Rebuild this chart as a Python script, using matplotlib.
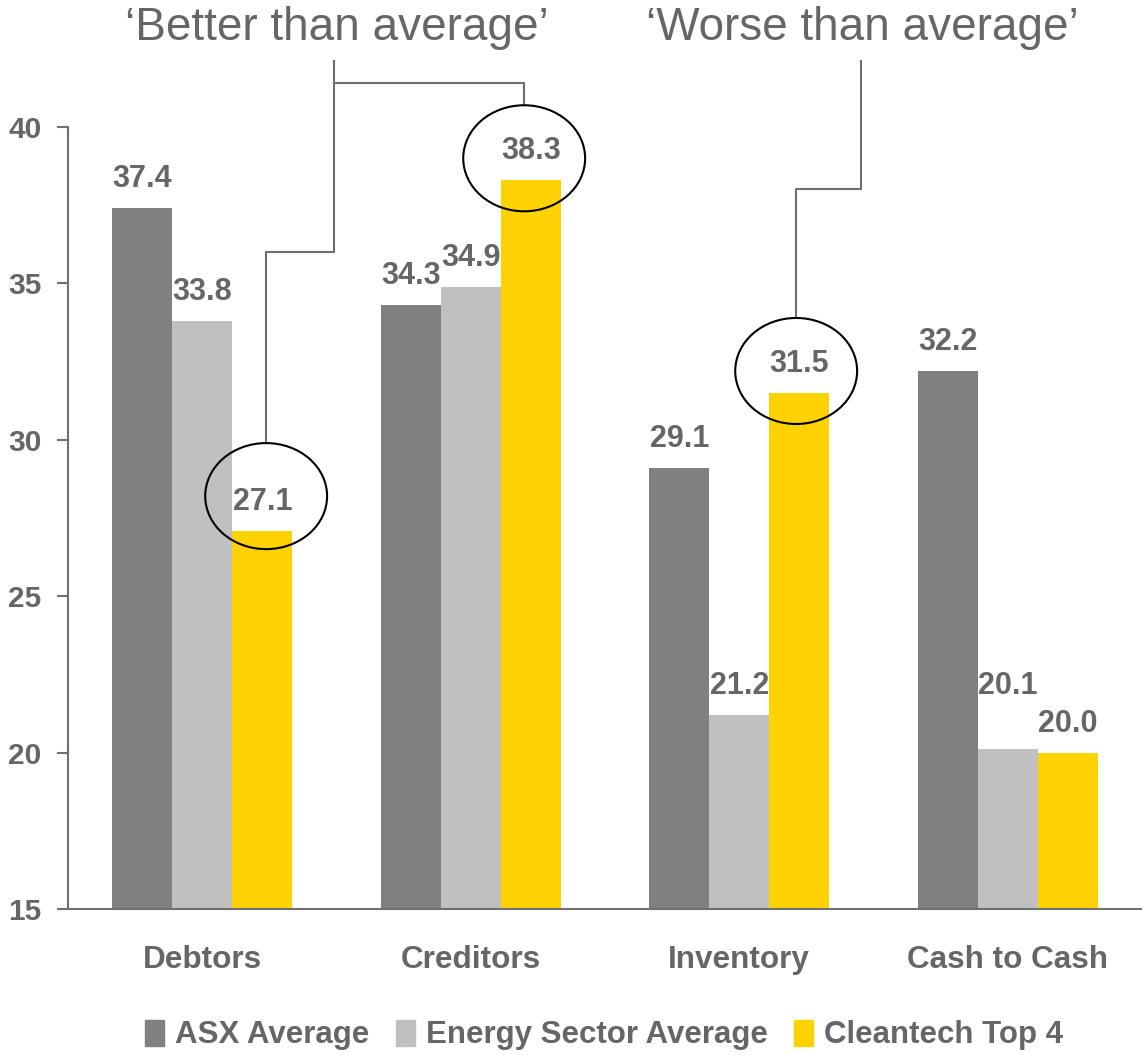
import matplotlib
matplotlib.use('Agg')
import matplotlib.pyplot as plt
from matplotlib.patches import Ellipse, Patch

##### data
categories = ['Debtors', 'Creditors', 'Inventory', 'Cash to Cash']
series_names = ['ASX Average', 'Energy Sector Average', 'Cleantech Top 4']
asx = [37.4, 34.3, 29.1, 32.2]
energy = [33.8, 34.9, 21.2, 20.1]
cleantech = [27.1, 38.3, 31.5, 20.0]
yticks = [15, 20, 25, 30, 35, 40]

colors = ['#808080', '#c0c0c0', '#ffd200']
txt = '#666666'

plt.rcParams['font.family'] = ['Liberation Sans', 'DejaVu Sans']

##### plotting
fig = plt.figure(figsize=(11.42, 10.55), dpi=100)
ax = fig.add_axes([68/1142, 146/1055, 1074/1142, 782/1055])

w = 0.2235
x = range(len(categories))
for k, vals in enumerate([asx, energy, cleantech]):
    xs = [i + (k - 1) * w for i in x]
    ax.bar(xs, vals, width=w, color=colors[k], zorder=2)
    for i, (xi, v) in enumerate(zip(xs, vals)):
        dy = 15
        if k == 1 and i == 3:   # lifted so it clears the 20.0 label
            dy = 40
        ax.annotate(f'{v:.1f}', (xi, v), xytext=(0, dy), textcoords='offset points',
                    ha='center', va='baseline', fontsize=22, fontweight='bold', color=txt)

ax.set_xlim(-0.5, 3.5)
ax.set_ylim(15, 40)
ax.set_yticks(yticks)
ax.set_xticks(list(x))
ax.set_xticklabels(categories)
for s in ['top', 'right']:
    ax.spines[s].set_visible(False)
for s in ['left', 'bottom']:
    ax.spines[s].set_color('#707070')
    ax.spines[s].set_linewidth(1.5)
ax.tick_params(axis='x', length=0, pad=26, labelsize=22.7, labelcolor=txt)
ax.tick_params(axis='y', length=8, width=1.5, color='#707070', pad=11, labelsize=21.5, labelcolor=txt)
for lab in ax.get_xticklabels() + ax.get_yticklabels():
    lab.set_fontweight('bold')

# circles round the highlighted values
for cx, cy in [(0.238, 28.2), (1.199, 39.0), (2.212, 32.2)]:
    ax.add_patch(Ellipse((cx, cy), 0.454, 3.39, fill=False, ec='black', lw=1.5,
                         zorder=5, clip_on=False))

# connector lines
lk = dict(color='#6f6f6f', lw=1.5, clip_on=False, zorder=4)
ax.plot([0.492, 0.492, 0.238, 0.238], [42.11, 36.0, 36.0, 29.9], **lk)
ax.plot([0.492, 1.199, 1.199], [41.41, 41.41, 40.7], **lk)
ax.plot([2.454, 2.454, 2.212, 2.212], [42.11, 38.02, 38.02, 33.93], **lk)

# headings
fig.text(337/1142, 1 - 28/1055, '\u2018Better than average\u2019', ha='center', va='center',
         fontsize=33, color=txt)
fig.text(862/1142, 1 - 28/1055, '\u2018Worse than average\u2019', ha='center', va='center',
         fontsize=33, color=txt)

handles = [Patch(color=c) for c in colors]
leg = fig.legend(handles, series_names, loc='center', bbox_to_anchor=(604/1142, 20/1055),
                 ncol=3, frameon=False, handlelength=0.6, handleheight=0.9,
                 handletextpad=0.35, columnspacing=0.85,
                 prop={'size': 22.5, 'weight': 'bold'})
for t in leg.get_texts():
    t.set_color(txt)

plt.savefig('out.png', dpi=100)
